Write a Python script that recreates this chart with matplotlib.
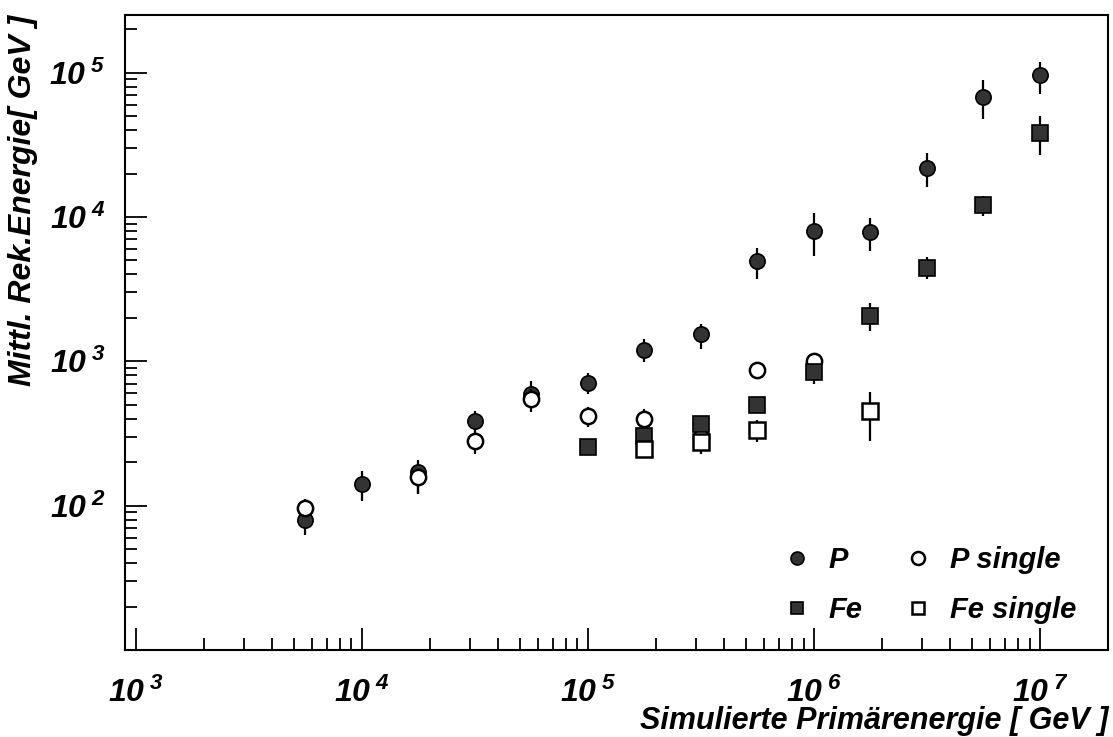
import matplotlib
matplotlib.use("Agg")
import matplotlib.pyplot as plt
from matplotlib.ticker import LogLocator, NullFormatter

plt.rcParams['font.family'] = ['Liberation Sans', 'DejaVu Sans']
plt.rcParams['font.weight'] = 'bold'
plt.rcParams['font.style'] = 'italic'
plt.rcParams['axes.labelweight'] = 'bold'
plt.rcParams['mathtext.fontset'] = 'custom'
plt.rcParams['mathtext.rm'] = 'Liberation Sans:bold:italic'
plt.rcParams['mathtext.it'] = 'Liberation Sans:bold:italic'
plt.rcParams['mathtext.bf'] = 'Liberation Sans:bold:italic'

# simulated primary energy [GeV]
p_x = [5.62e3, 1e4, 1.78e4, 3.16e4, 5.62e4, 1e5, 1.78e5, 3.16e5, 5.62e5,
       1e6, 1.78e6, 3.16e6, 5.62e6, 1e7]
p_y = [79, 141, 170, 387, 593, 713, 1202, 1542, 4970, 8000, 7870, 21900, 68000, 96200]
p_lo = [63, 108, 121, 330, 443, 598, 982, 1220, 3710, 5370, 5820, 16200, 47400, 70600]
p_hi = [95, 175, 208, 450, 733, 824, 1426, 1820, 6140, 10700, 9800, 27600, 88300, 119000]

fe_x = [1e5, 1.78e5, 3.16e5, 5.62e5, 1e6, 1.78e6, 3.16e6, 5.62e6, 1e7]
fe_y = [253, 305, 367, 500, 848, 2070, 4460, 12100, 37900]
fe_lo = [240, 290, 350, 480, 692, 1625, 3710, 10200, 26900]
fe_hi = [268, 320, 385, 520, 900, 2550, 5290, 13970, 50000]

ps_x = [5.62e3, 1.78e4, 3.16e4, 5.62e4, 1e5, 1.78e5, 3.16e5, 5.62e5, 1e6]
ps_y = [97, 157, 279, 550, 420, 398, 300, 869, 1007]
ps_lo = [85, 121, 229, 480, 352, 340, 270, 820, 960]
ps_hi = [112, 180, 330, 640, 484, 467, 330, 920, 1060]

fs_x = [1.78e5, 3.16e5, 5.62e5, 1.78e6]
fs_y = [247, 274, 334, 450]
fs_lo = [235, 229, 274, 281]
fs_hi = [260, 290, 392, 618]

x_ticks = [1e3, 1e4, 1e5, 1e6, 1e7]
x_labels = [r'$10^{\;3}$', r'$10^{\;4}$', r'$10^{\;5}$', r'$10^{\;6}$', r'$10^{\;7}$']
y_ticks = [1e2, 1e3, 1e4, 1e5]
y_labels = [r'$10^{\;2}$', r'$10^{\;3}$', r'$10^{\;4}$', r'$10^{\;5}$']


def errs(y, lo, hi):
    return [[v - l for v, l in zip(y, lo)], [h - v for v, h in zip(y, hi)]]


fig = plt.figure(figsize=(11.13, 7.37), dpi=100)
ax = fig.add_axes([0.1123, 0.118, 0.8832, 0.8616])

fill = '#333333'
common = dict(ls='none', ecolor='black', elinewidth=1.6, capsize=0, ms=11)

h_p = ax.errorbar(p_x, p_y, yerr=errs(p_y, p_lo, p_hi), fmt='o', mfc=fill, mec='black',
                  mew=1.2, zorder=3, **common)
h_ps = ax.errorbar(ps_x, ps_y, yerr=errs(ps_y, ps_lo, ps_hi), fmt='o', mfc='white', mec='black',
                   mew=1.8, zorder=4, **common)
h_fe = ax.errorbar(fe_x, fe_y, yerr=errs(fe_y, fe_lo, fe_hi), fmt='s', mfc=fill, mec='black',
                   mew=1.2, zorder=5, **common)
h_fs = ax.errorbar(fs_x, fs_y, yerr=errs(fs_y, fs_lo, fs_hi), fmt='s', mfc='white', mec='black',
                   mew=1.8, zorder=6, **common)

ax.set_xscale('log')
ax.set_yscale('log')
ax.set_xlim(10**2.9527, 10**7.301)
ax.set_ylim(10, 10**5.399)

ax.set_xticks(x_ticks, x_labels)
ax.set_yticks(y_ticks, y_labels)
ax.xaxis.set_minor_locator(LogLocator(base=10, subs=range(2, 10), numticks=20))
ax.yaxis.set_minor_locator(LogLocator(base=10, subs=range(2, 10), numticks=20))
ax.xaxis.set_minor_formatter(NullFormatter())
ax.yaxis.set_minor_formatter(NullFormatter())

ax.tick_params(which='both', direction='in', top=False, right=False, width=1.3)
ax.tick_params(which='major', length=16, labelsize=23)
ax.tick_params(which='minor', length=8.5)
ax.tick_params(axis='x', which='major', pad=20)
ax.tick_params(axis='y', which='major', pad=14)
for s in ax.spines.values():
    s.set_linewidth(1.5)

ax.set_xlabel('Simulierte Primärenergie [ GeV ]', fontsize=22, loc='right', labelpad=-2)
ax.set_ylabel('Mittl. Rek.Energie[ GeV ]', fontsize=23, loc='top', labelpad=8)

leg = ax.legend([h_p[0], h_fe[0], h_ps[0], h_fs[0]], ['P', 'Fe', 'P single', 'Fe single'],
                ncol=2, frameon=False, loc='lower right', bbox_to_anchor=(0.995, 0.0),
                fontsize=21, markerscale=0.85, handlelength=1.0, handletextpad=0.6,
                columnspacing=1.4, labelspacing=0.75)

fig.savefig('out.png', dpi=100)
